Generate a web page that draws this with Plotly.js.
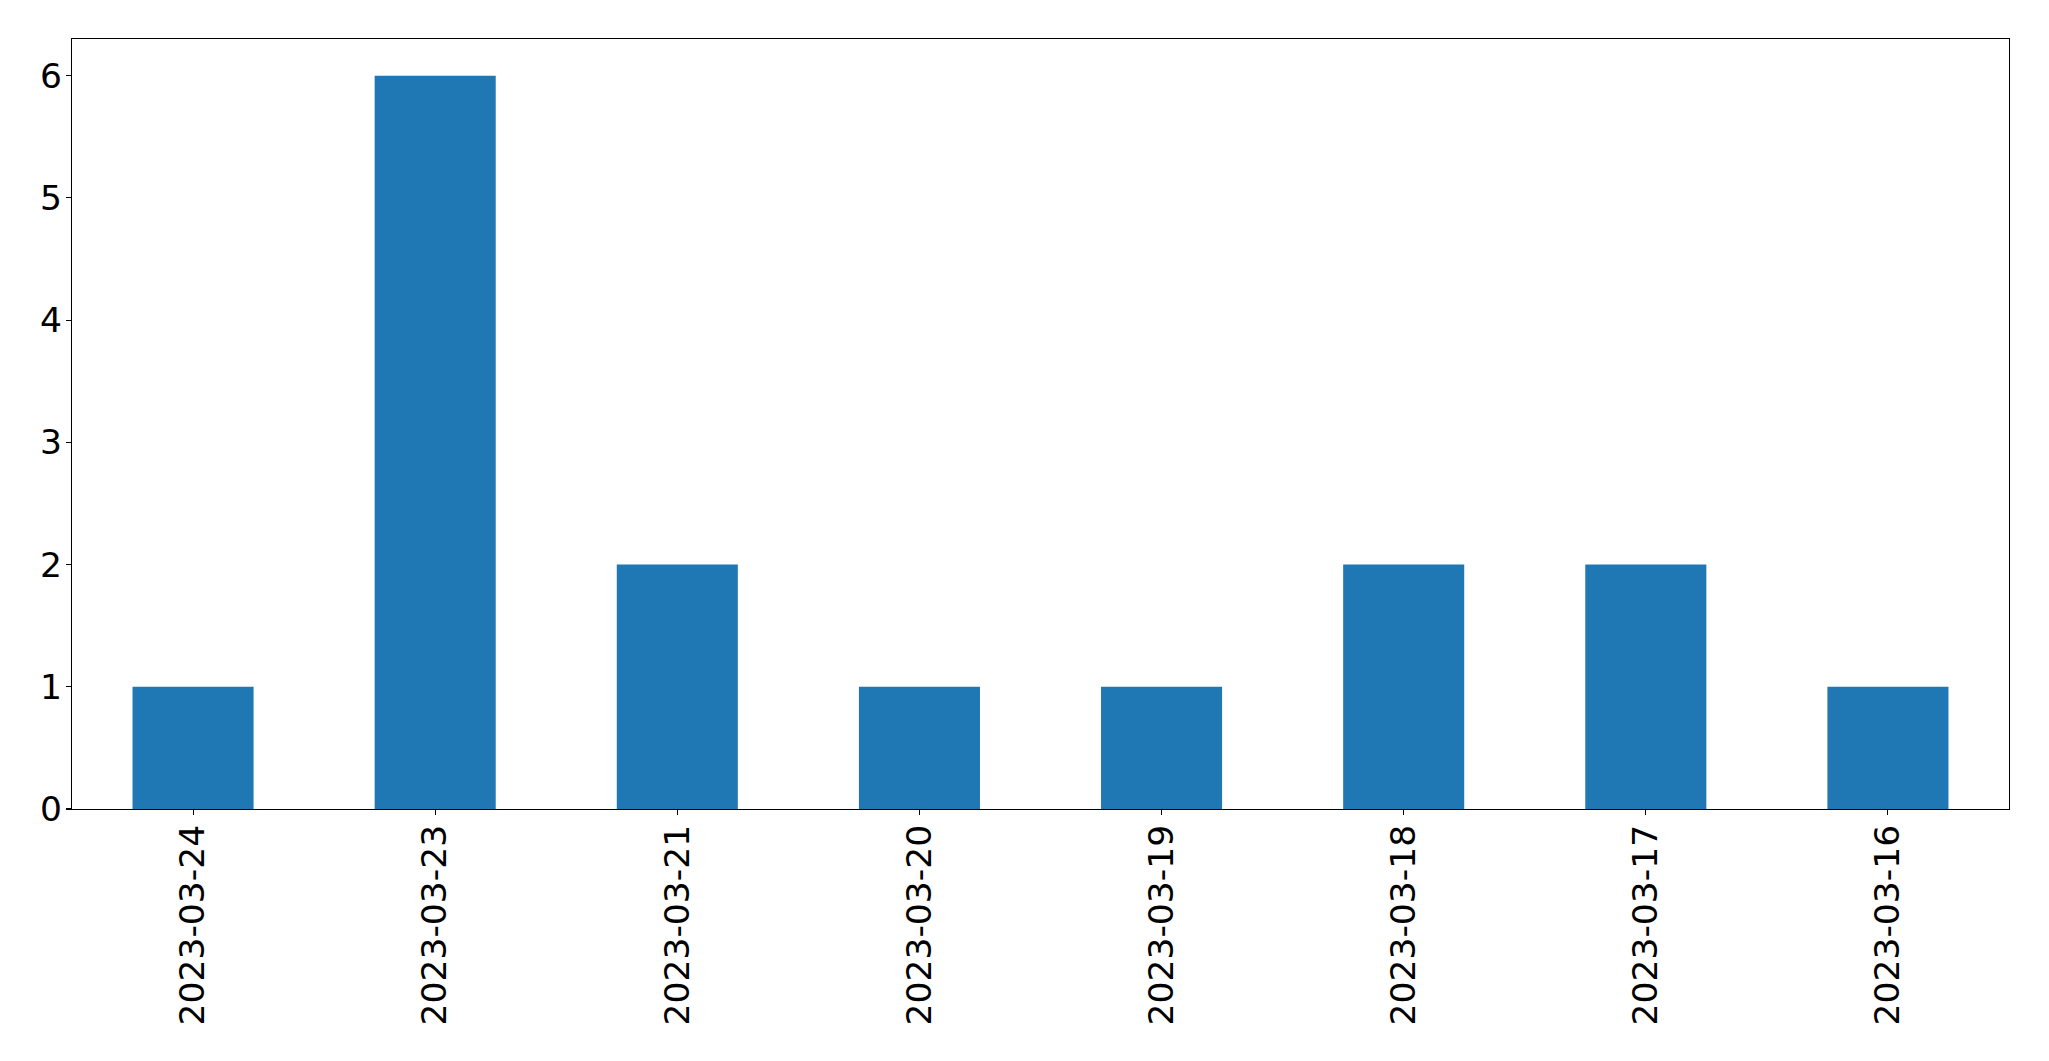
<!DOCTYPE html>
<html>
<head>
<meta charset="utf-8">
<script src="https://cdn.plot.ly/plotly-3.0.1.min.js"></script>
<style>html,body{margin:0;padding:0;background:#fff;}#chart{width:2049px;height:1061px;}</style>
</head>
<body>
<div id="chart"></div>
<script>
const dates = ["2023-03-24","2023-03-23","2023-03-21","2023-03-20","2023-03-19","2023-03-18","2023-03-17","2023-03-16"];
const counts = [1, 6, 2, 1, 1, 2, 2, 1];
const yTicks = [0, 1, 2, 3, 4, 5, 6];

const positions = dates.map((d, i) => i);

const trace = {
  type: 'bar',
  x: positions,
  y: counts,
  width: 0.5,
  marker: {color: '#1f77b4', line: {width: 0}},
  hoverinfo: 'skip'
};

const font = {family: 'DejaVu Sans, sans-serif', size: 34.5, color: '#000'};

const layout = {
  width: 2049,
  height: 1061,
  margin: {l: 72, r: 40, t: 39, b: 252, pad: 0},
  paper_bgcolor: '#fff',
  plot_bgcolor: '#fff',
  showlegend: false,
  font: font,
  xaxis: {
    range: [-0.5, 7.5],
    tickmode: 'array',
    tickvals: positions,
    ticktext: dates,
    tickangle: -90,
    ticks: 'outside',
    ticklen: 5,
    tickwidth: 1.1,
    tickcolor: '#000',
    showgrid: false,
    zeroline: false,
    showline: true,
    linecolor: '#000',
    linewidth: 1.1,
    mirror: true,
    tickfont: font,
    ticklabelstandoff: -4
  },
  yaxis: {
    range: [0, 6.3],
    tickmode: 'array',
    tickvals: yTicks,
    ticktext: yTicks.map(String),
    ticks: 'outside',
    ticklen: 5,
    tickwidth: 1.1,
    tickcolor: '#000',
    showgrid: false,
    zeroline: false,
    showline: true,
    linecolor: '#000',
    linewidth: 1.1,
    mirror: true,
    tickfont: font,
    ticklabelstandoff: -3
  }
};

Plotly.newPlot('chart', [trace], layout, {staticPlot: true, displayModeBar: false});
</script>
</body>
</html>
